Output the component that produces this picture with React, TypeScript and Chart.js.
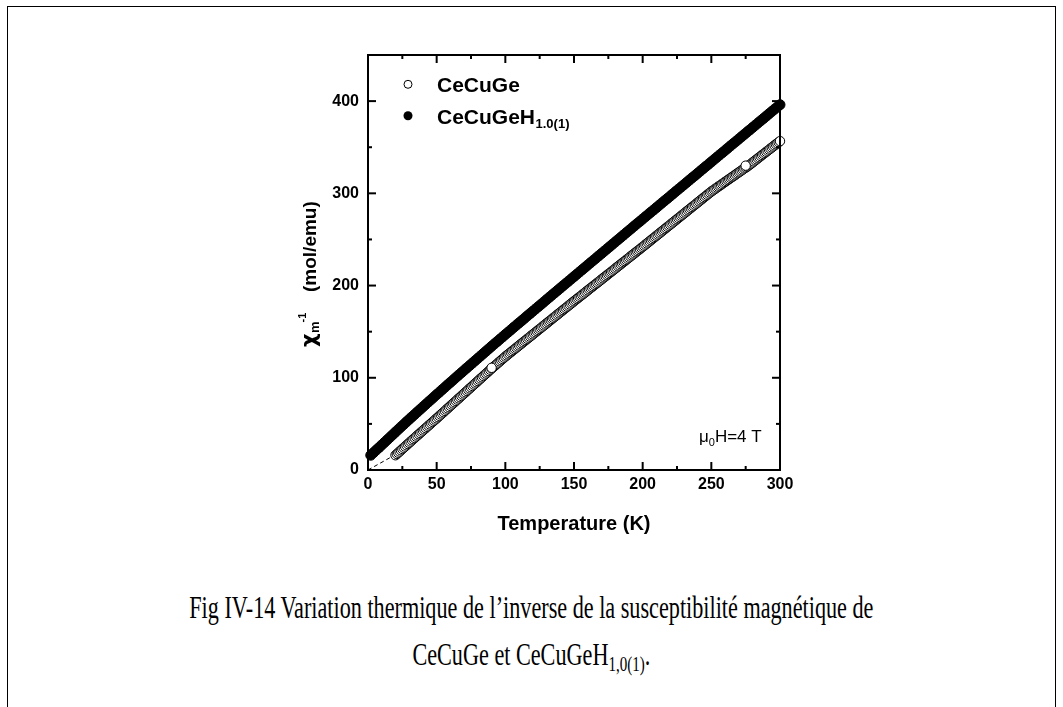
import React, { useEffect, useRef } from "react";
import { Chart, registerables } from "chart.js";

Chart.register(...registerables);

// ---------- data ----------
const tempH = [
  2, 4, 6, 8, 10, 12, 14, 16, 18, 20,
  22, 24, 26, 28, 30, 32, 34, 36, 38, 40,
  42, 44, 46, 48, 50, 52, 54, 56, 58, 60,
  62, 64, 66, 68, 70, 72, 74, 76, 78, 80,
  82, 84, 86, 88, 90, 92, 94, 96, 98, 100,
  102, 104, 106, 108, 110, 112, 114, 116, 118, 120,
  122, 124, 126, 128, 130, 132, 134, 136, 138, 140,
  142, 144, 146, 148, 150, 152, 154, 156, 158, 160,
  162, 164, 166, 168, 170, 172, 174, 176, 178, 180,
  182, 184, 186, 188, 190, 192, 194, 196, 198, 200,
  202, 204, 206, 208, 210, 212, 214, 216, 218, 220,
  222, 224, 226, 228, 230, 232, 234, 236, 238, 240,
  242, 244, 246, 248, 250, 252, 254, 256, 258, 260,
  262, 264, 266, 268, 270, 272, 274, 276, 278, 280,
  282, 284, 286, 288, 290, 292, 294, 296, 298, 300,
];
const chiH = [
  16.0, 18.8, 21.6, 24.3, 27.1, 29.9, 32.7, 35.5, 38.3, 41.1,
  43.9, 46.7, 49.4, 52.2, 54.9, 57.6, 60.3, 63.0, 65.7, 68.4,
  71.1, 73.8, 76.4, 79.1, 81.8, 84.4, 87.1, 89.7, 92.4, 95.0,
  97.6, 100.3, 102.9, 105.5, 108.1, 110.7, 113.3, 115.9, 118.5, 121.1,
  123.7, 126.3, 128.9, 131.5, 134.1, 136.7, 139.2, 141.8, 144.3, 146.9,
  149.4, 151.9, 154.5, 157.0, 159.5, 162.0, 164.5, 167.1, 169.6, 172.1,
  174.6, 177.1, 179.6, 182.1, 184.7, 187.2, 189.7, 192.2, 194.7, 197.2,
  199.7, 202.2, 204.7, 207.2, 209.7, 212.2, 214.7, 217.2, 219.7, 222.2,
  224.7, 227.2, 229.7, 232.2, 234.7, 237.2, 239.7, 242.2, 244.7, 247.2,
  249.7, 252.2, 254.7, 257.2, 259.7, 262.2, 264.7, 267.2, 269.6, 272.1,
  274.6, 277.1, 279.6, 282.0, 284.5, 287.0, 289.5, 292.0, 294.4, 296.9,
  299.4, 301.9, 304.4, 306.8, 309.3, 311.8, 314.3, 316.8, 319.2, 321.7,
  324.2, 326.7, 329.2, 331.6, 334.1, 336.6, 339.1, 341.6, 344.0, 346.5,
  349.0, 351.5, 354.0, 356.4, 358.9, 361.4, 363.9, 366.4, 368.8, 371.3,
  373.8, 376.3, 378.8, 381.2, 383.7, 386.2, 388.7, 391.2, 393.6, 396.1,
];

const tempCe = [
  20, 21, 22, 23, 24, 25, 26, 27, 28, 29,
  30, 31, 32, 33, 34, 35, 36, 37, 38, 39,
  40, 41, 42, 43, 44, 45, 46, 47, 48, 49,
  50, 51, 52, 53, 54, 55, 56, 57, 58, 59,
  60, 61, 62, 63, 64, 65, 66, 67, 68, 69,
  70, 71, 72, 73, 74, 75, 76, 77, 78, 79,
  80, 81, 82, 83, 84, 85, 86, 87, 88, 89,
  90, 91, 92, 93, 94, 95, 96, 97, 98, 99,
  100, 101, 102, 103, 104, 105, 106, 107, 108, 109,
  110, 111, 112, 113, 114, 115, 116, 117, 118, 119,
  120, 121, 122, 123, 124, 125, 126, 127, 128, 129,
  130, 131, 132, 133, 134, 135, 136, 137, 138, 139,
  140, 141, 142, 143, 144, 145, 146, 147, 148, 149,
  150, 151, 152, 153, 154, 155, 156, 157, 158, 159,
  160, 161, 162, 163, 164, 165, 166, 167, 168, 169,
  170, 171, 172, 173, 174, 175, 176, 177, 178, 179,
  180, 181, 182, 183, 184, 185, 186, 187, 188, 189,
  190, 191, 192, 193, 194, 195, 196, 197, 198, 199,
  200, 201, 202, 203, 204, 205, 206, 207, 208, 209,
  210, 211, 212, 213, 214, 215, 216, 217, 218, 219,
  220, 221, 222, 223, 224, 225, 226, 227, 228, 229,
  230, 231, 232, 233, 234, 235, 236, 237, 238, 239,
  240, 241, 242, 243, 244, 245, 246, 247, 248, 249,
  250, 251, 252, 253, 254, 255, 256, 257, 258, 259,
  260, 261, 262, 263, 264, 265, 266, 267, 268, 269,
  270, 271, 272, 273, 274, 275, 276, 277, 278, 279,
  280, 281, 282, 283, 284, 285, 286, 287, 288, 289,
  290, 291, 292, 293, 294, 295, 296, 297, 298, 299,
  300, 90, 275,
];
const chiCe = [
  16.0, 17.4, 18.7, 20.0, 21.4, 22.8, 24.1, 25.4, 26.8, 28.2,
  29.5, 30.8, 32.2, 33.5, 34.8, 36.2, 37.5, 38.8, 40.1, 41.5,
  42.8, 44.1, 45.4, 46.8, 48.1, 49.4, 50.7, 52.1, 53.4, 54.7,
  56.0, 57.3, 58.7, 60.1, 61.4, 62.7, 64.1, 65.5, 66.8, 68.1,
  69.5, 70.9, 72.2, 73.5, 74.9, 76.3, 77.6, 78.9, 80.3, 81.7,
  83.0, 84.3, 85.7, 87.1, 88.4, 89.7, 91.1, 92.5, 93.8, 95.1,
  96.5, 97.9, 99.2, 100.5, 101.9, 103.3, 104.6, 105.9, 107.3, 108.7,
  110.0, 111.3, 112.6, 113.9, 115.2, 116.5, 117.8, 119.1, 120.4, 121.7,
  123.0, 124.2, 125.4, 126.6, 127.8, 129.0, 130.2, 131.4, 132.6, 133.8,
  135.0, 136.2, 137.4, 138.6, 139.8, 141.0, 142.2, 143.4, 144.6, 145.8,
  147.0, 148.2, 149.4, 150.6, 151.8, 153.0, 154.2, 155.4, 156.6, 157.8,
  159.0, 160.2, 161.4, 162.6, 163.8, 165.0, 166.2, 167.4, 168.6, 169.8,
  171.0, 172.2, 173.4, 174.6, 175.8, 177.0, 178.2, 179.4, 180.6, 181.8,
  183.0, 184.2, 185.4, 186.5, 187.7, 188.9, 190.1, 191.2, 192.4, 193.6,
  194.8, 196.0, 197.2, 198.3, 199.5, 200.7, 201.9, 203.0, 204.2, 205.4,
  206.6, 207.8, 209.0, 210.1, 211.3, 212.5, 213.7, 214.8, 216.0, 217.2,
  218.4, 219.6, 220.8, 221.9, 223.1, 224.3, 225.5, 226.6, 227.8, 229.0,
  230.2, 231.4, 232.6, 233.7, 234.9, 236.1, 237.3, 238.4, 239.6, 240.8,
  242.0, 243.2, 244.4, 245.6, 246.8, 248.0, 249.2, 250.4, 251.6, 252.8,
  254.0, 255.2, 256.4, 257.6, 258.8, 260.0, 261.2, 262.4, 263.6, 264.8,
  266.0, 267.2, 268.4, 269.6, 270.8, 272.0, 273.2, 274.4, 275.6, 276.8,
  278.0, 279.2, 280.4, 281.6, 282.8, 284.0, 285.2, 286.4, 287.6, 288.8,
  290.0, 291.2, 292.4, 293.6, 294.8, 296.0, 297.2, 298.4, 299.6, 300.8,
  302.0, 303.0, 304.1, 305.1, 306.2, 307.2, 308.2, 309.2, 310.3, 311.4,
  312.4, 313.4, 314.5, 315.5, 316.6, 317.6, 318.6, 319.6, 320.7, 321.8,
  322.8, 323.8, 324.9, 325.9, 327.0, 327.9, 328.8, 330.0, 331.1, 332.2,
  333.4, 334.6, 335.8, 336.9, 338.1, 339.2, 340.4, 341.6, 342.7, 343.9,
  345.0, 346.2, 347.4, 348.5, 349.7, 350.8, 352.0, 353.2, 354.3, 355.5,
  356.6, 110.8, 330.0,
];

// dashed extrapolation line
const fitT = [0, 18];
const fitChi = [0, 15];

const xTickValues = [0, 50, 100, 150, 200, 250, 300];
const yTickValues = [0, 100, 200, 300, 400];

const seriesNames = ["CeCuGe", "CeCuGeH"];
const seriesSub = ["", "1.0(1)"];
const xTitle = "Temperature (K)";
const yTitleParts = ["\u03C7", "m", "-1", "(mol/emu)"];
const fieldLabel = ["\u03BC", "0", "H=4 T"];
const captionLine1 = "Fig IV-14 Variation thermique de l\u2019inverse de la susceptibilit\u00E9 magn\u00E9tique de";
const captionLine2 = ["CeCuGe et CeCuGeH", "1,0(1)", "."];

const SANS = "Arial, 'Liberation Sans', Helvetica, sans-serif";
const SERIF = "'Times New Roman', 'Liberation Serif', Times, serif";

const overlayPlugin = {
  id: "overlay",
  afterDraw(chart: any) {
    const { ctx, chartArea: a, scales } = chart;
    const xs = scales.x;
    const ys = scales.y;
    ctx.save();
    ctx.strokeStyle = "#000";
    ctx.fillStyle = "#000";

    // frame
    ctx.lineWidth = 2;
    ctx.strokeRect(a.left, a.top, a.right - a.left, a.bottom - a.top);

    const seg = (x1: number, y1: number, x2: number, y2: number) => {
      ctx.beginPath();
      ctx.moveTo(x1, y1);
      ctx.lineTo(x2, y2);
      ctx.stroke();
    };
    ctx.lineWidth = 2;
    const xt = (v: number, len: number) => {
      const p = xs.getPixelForValue(v);
      seg(p, a.bottom, p, a.bottom - len);
      seg(p, a.top, p, a.top + len);
    };
    const yt = (v: number, len: number) => {
      const p = ys.getPixelForValue(v);
      seg(a.left, p, a.left + len, p);
      seg(a.right, p, a.right - len, p);
    };
    xTickValues.forEach((v, i) => {
      xt(v, 8);
      if (i < xTickValues.length - 1) xt((v + xTickValues[i + 1]) / 2, 4);
    });
    yTickValues.forEach((v, i) => {
      yt(v, 8);
      if (i < yTickValues.length - 1) yt((v + yTickValues[i + 1]) / 2, 4);
    });

    // legend
    const cx = a.left + 40;
    const y1 = a.top + 29.3;
    const y2 = a.top + 60.7;
    ctx.lineWidth = 1;
    ctx.beginPath();
    ctx.arc(cx, y1, 4, 0, Math.PI * 2);
    ctx.fillStyle = "#fff";
    ctx.fill();
    ctx.stroke();
    ctx.beginPath();
    ctx.arc(cx, y2, 4.5, 0, Math.PI * 2);
    ctx.fillStyle = "#000";
    ctx.fill();

    ctx.fillStyle = "#000";
    ctx.textBaseline = "alphabetic";
    ctx.textAlign = "left";
    ctx.font = `bold 21px ${SANS}`;
    const tx = a.left + 69;
    ctx.fillText(seriesNames[0], tx, y1 + 7.7);
    ctx.fillText(seriesNames[1], tx, y2 + 7.8);
    const w2 = ctx.measureText(seriesNames[1]).width;
    ctx.font = `bold 13px ${SANS}`;
    ctx.fillText(seriesSub[1], tx + w2 + 0.5, y2 + 12.5);

    // field annotation
    ctx.font = `17px ${SANS}`;
    let fx = a.right - 81;
    const fy = a.bottom - 28;
    ctx.fillText(fieldLabel[0], fx, fy);
    fx += ctx.measureText(fieldLabel[0]).width;
    ctx.font = `11px ${SANS}`;
    ctx.fillText(fieldLabel[1], fx, fy + 4);
    fx += ctx.measureText(fieldLabel[1]).width;
    ctx.font = `17px ${SANS}`;
    ctx.fillText(fieldLabel[2], fx, fy);

    // y title: chi_m^-1 (mol/emu)
    ctx.translate(a.left - 52, a.top + 292);
    ctx.rotate(-Math.PI / 2);
    ctx.font = `bold 21px 'DejaVu Sans', ${SANS}`;
    ctx.fillText(yTitleParts[0], 0, 0);
    let p = ctx.measureText(yTitleParts[0]).width + 0.5;
    ctx.font = `bold 13px ${SANS}`;
    ctx.fillText(yTitleParts[1], p, 3);
    p += ctx.measureText(yTitleParts[1]).width;
    ctx.font = `bold 11px ${SANS}`;
    ctx.fillText(yTitleParts[2], p - 1, -10);
    ctx.font = `bold 19px ${SANS}`;
    ctx.fillText(yTitleParts[3], 55, 0);

    ctx.restore();
  },
};

export default function App() {
  const ref = useRef<HTMLCanvasElement | null>(null);

  useEffect(() => {
    if (!ref.current) return;
    Chart.defaults.font.family = SANS;
    Chart.defaults.color = "#000";
    const chart = new Chart(ref.current, {
      type: "scatter",
      data: {
        datasets: [
          {
            label: "CeCuGeH",
            data: tempH.map((t, i) => ({ x: t, y: chiH[i] })),
            pointRadius: 5,
            pointBackgroundColor: "#000",
            pointBorderColor: "#000",
            pointBorderWidth: 1,
            showLine: false,
            clip: false,
          },
          {
            label: "CeCuGe",
            data: tempCe.map((t, i) => ({ x: t, y: chiCe[i] })),
            pointRadius: 4.7,
            pointBackgroundColor: "#fff",
            pointBorderColor: "#000",
            pointBorderWidth: 1,
            showLine: false,
            clip: false,
          },
          {
            label: "fit",
            type: "line",
            data: fitT.map((t, i) => ({ x: t, y: fitChi[i] })),
            borderColor: "#000",
            borderWidth: 1,
            borderDash: [4, 3],
            pointRadius: 0,
            showLine: true,
            fill: false,
          } as any,
        ],
      },
      options: {
        animation: false,
        responsive: false,
        devicePixelRatio: 1,
        layout: { padding: { left: 288, right: 283, top: 55, bottom: 0 } },
        plugins: { legend: { display: false }, tooltip: { enabled: false } },
        scales: {
          x: {
            type: "linear",
            position: "bottom",
            min: 0,
            max: 300,
            grid: { display: false, drawTicks: false },
            border: { display: false },
            afterBuildTicks: (s: any) => {
              s.ticks = xTickValues.map((v) => ({ value: v }));
            },
            afterFit: (s: any) => {
              s.height = 90;
            },
            ticks: {
              autoSkip: false,
              maxRotation: 0,
              padding: 5,
              color: "#000",
              font: { size: 16, weight: "bold", family: SANS },
            },
            title: {
              display: true,
              text: xTitle,
              color: "#000",
              font: { size: 20, weight: "bold", family: SANS },
              padding: { top: 0, bottom: 24 },
            },
          },
          y: {
            type: "linear",
            min: 0,
            max: 450,
            grid: { display: false, drawTicks: false },
            border: { display: false },
            afterBuildTicks: (s: any) => {
              s.ticks = yTickValues.map((v) => ({ value: v }));
            },
            afterFit: (s: any) => {
              s.width = 80;
            },
            ticks: {
              padding: 9,
              color: "#000",
              font: { size: 16, weight: "bold", family: SANS },
            },
          },
        },
      } as any,
      plugins: [overlayPlugin],
    });
    return () => chart.destroy();
  }, []);

  return (
    <div
      style={{
        position: "absolute",
        left: 0,
        top: 0,
        width: 1063,
        height: 707,
        overflow: "hidden",
        background: "#fff",
      }}
    >
      <div
        style={{
          position: "absolute",
          left: 7,
          top: 6,
          width: 1049,
          height: 701,
          borderTop: "1px solid #000",
          borderLeft: "1px solid #000",
          borderRight: "1px solid #000",
          boxSizing: "border-box",
        }}
      />
      <canvas
        ref={ref}
        width={1063}
        height={560}
        style={{ position: "absolute", left: 0, top: 0, width: 1063, height: 560 }}
      />
      <div
        style={{
          position: "absolute",
          left: 0,
          top: 584,
          width: 1063,
          textAlign: "center",
          fontFamily: SERIF,
          fontSize: 31,
          lineHeight: "47px",
          color: "#000",
          whiteSpace: "nowrap",
          transform: "scaleX(0.716)",
          transformOrigin: "531px 0",
        }}
      >
        <div>{captionLine1}</div>
        <div>
          {captionLine2[0]}
          <span style={{ fontSize: 21, position: "relative", top: 6, lineHeight: 0 }}>
            {captionLine2[1]}
          </span>
          {captionLine2[2]}
        </div>
      </div>
    </div>
  );
}
